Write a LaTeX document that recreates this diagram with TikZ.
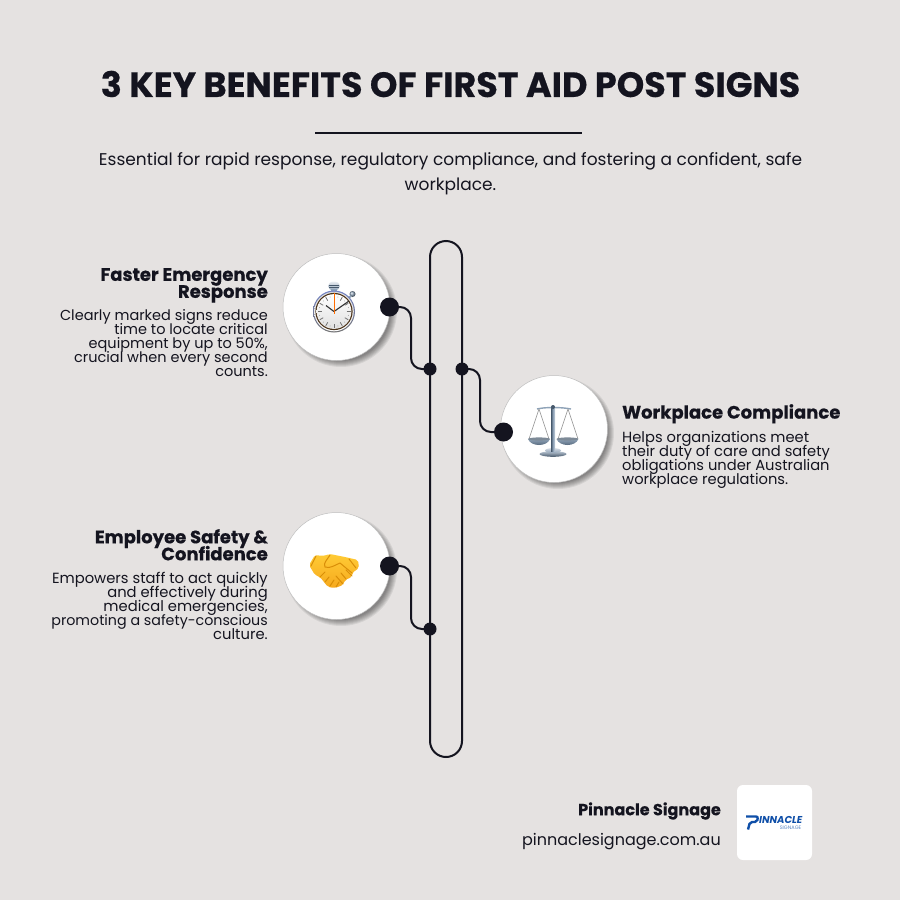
\documentclass[tikz,border=0pt]{standalone}
\usepackage{fontspec}
\setmainfont{Poppins}[BoldFeatures={FakeBold=0.5}]
\usetikzlibrary{calc}
\definecolor{bgc}{HTML}{E5E2E1}
\definecolor{ink}{HTML}{14141F}
\definecolor{logob}{HTML}{0F4FA8}
\definecolor{gold}{HTML}{FFCB35}
\definecolor{goldlo}{HTML}{F6A91E}
\definecolor{golddk}{HTML}{D98E08}
\definecolor{steel}{HTML}{8FA3B8}
\definecolor{steeldk}{HTML}{46586B}
\tikzset{
  x=1pt,y=-1pt,
  rail/.style={draw=ink,line width=2pt},
  link/.style={draw=ink,line width=2pt,rounded corners=11pt},
  bigdot/.style={circle,fill=ink,minimum size=19pt,inner sep=0pt},
  smalldot/.style={circle,fill=ink,minimum size=13pt,inner sep=0pt},
  disc/.style={circle,fill=white,draw=black!25,line width=.5pt,minimum size=107pt,inner sep=0pt},
  tight/.style={inner sep=0pt,text=ink},
  headR/.style={tight,anchor=north east,align=right,font=\fontsize{18}{17}\selectfont\bfseries},
  headL/.style={tight,anchor=north west,align=left,font=\fontsize{18}{17}\selectfont\bfseries},
  bodyR/.style={tight,anchor=north east,align=right,font=\fontsize{#1}{14}\selectfont},
  bodyL/.style={tight,anchor=north west,align=left,font=\fontsize{#1}{14}\selectfont},
}
\newcommand{\softshadow}[2]{%
  \foreach \r in {56,55,54,53,52,51,50}{\fill[black,opacity=.07] (#1+4,#2+4) circle[radius=\r];}}
\begin{document}
\begin{tikzpicture}
\normallineskiplimit=-30pt
\lineskiplimit=-30pt
\useasboundingbox (0,0) rectangle (900,900);
\fill[bgc] (0,0) rectangle (900,900);
% title
\node[tight,font=\fontsize{35}{35}\selectfont\bfseries] (title) at (450.5,84) {3 KEY BENEFITS OF FIRST AID POST SIGNS};
\coordinate (ruleL) at (315,132.5); \coordinate (ruleR) at (582,132.5);
\draw[rail] (ruleL) -- (ruleR);
\node[tight,align=center,font=\fontsize{17}{25}\selectfont] (sub) at (450.5,174) {Essential for rapid response, regulatory compliance, and fostering a confident, safe\\workplace.};
% rail pill
\node[rail,rounded corners=16pt,minimum width=32pt,minimum height=516pt,inner sep=0pt] (pill) at (446,499) {};
% shadows and discs
\softshadow{337}{307}\softshadow{554}{429}\softshadow{337}{566}
\node[disc] (c1) at (336.5,307) {};
\node[disc] (c2) at (554,429) {};
\node[disc] (c3) at (336.5,566) {};
% stopwatch
\shade[top color=white!80!steel,bottom color=steel] (334,286) ellipse[x radius=6,y radius=4.5];
\draw[steeldk,line width=.5pt] (329,285) -- (339,285) (329,287) -- (339,287);
\fill[steel] (331,289) rectangle (337,292);
\shade[ball color=steel] (352.5,294) circle[radius=3];
\draw[steel,line width=2pt] (346,300) -- (351,296);
\shade[top color=steel!80!blue,bottom color=black!55] (334,311.5) circle[radius=21];
\shade[top color=black!15,bottom color=white] (334,311.5) circle[radius=19.8];
\fill[black!60!brown] (334,311.5) circle[radius=18.6];
\shade[top color=white,bottom color=black!12] (334,311.5) circle[radius=17.4];
\foreach \a in {0,30,...,330}{\draw[black!55,line width=.8pt] (334,311.5)+(\a:12.5) -- +(\a:16.5);}
\foreach \a in {15,45,...,345}{\fill[black!35] (334,311.5)+(\a:15) circle[radius=.5];}
\draw[black!80,line width=1.1pt] (334,311.5) -- (326,305.5);
\draw[black!80,line width=1.1pt] (334,311.5) -- (349,301);
\draw[orange!85!red,line width=1pt] (334,293) -- (334,314);
% scales
\shade[top color=steel!60!white,bottom color=steeldk] (553,454) ellipse[x radius=13.5,y radius=2.8];
\shade[top color=white!60!steel,bottom color=steel] (553,450.5) ellipse[x radius=8,y radius=2.4];
\shade[left color=steeldk,right color=white!50!steel,middle color=steel] (551,408) rectangle (555,451);
\draw[steel,line width=1.4pt] (537,409) .. controls (545,407) and (561,407) .. (571,409);
\fill[steeldk] (553,407) circle[radius=2];
\draw[black!45,line width=.5pt] (539,409) -- (529,439) (539,409) -- (549,439) (568,409) -- (558,439) (568,409) -- (578,439);
\shade[top color=steel,bottom color=steeldk] (528,439) .. controls (531,447) and (547,447) .. (550,439) -- cycle;
\fill[steeldk!70] (539,439) ellipse[x radius=11,y radius=1.6];
\shade[top color=steel,bottom color=steeldk] (556.5,439) .. controls (560,447) and (575,447) .. (578.5,439) -- cycle;
\fill[steeldk!70] (567.5,439) ellipse[x radius=11,y radius=1.6];
% handshake
\shade[top color=gold,bottom color=goldlo,rounded corners=2pt] (309,565) -- (315,555) -- (323,556) -- (330,554) -- (345,557) -- (358,560) -- (359,568) -- (352,573) -- (352,577) -- (345,580) -- (343,585) -- (335,588) -- (328,587) -- (320,577) -- (315,575) -- cycle;
\draw[golddk,line width=1pt,line join=round,line cap=round] (330,555) .. controls (327,560) and (323,563) .. (325,567) .. controls (330,569) and (335,565) .. (340,563) -- (352,573)
 (346,570) -- (352,576) (341,573) -- (346,579) (336,576) -- (343,584) (320,577) -- (325,572) (325,582) -- (329,577) (330,586) -- (334,580) (336,587) -- (339,582) (316,556) -- (311,566) (349,559) -- (356,568);
% dots
\node[bigdot] (d1) at (389.5,307) {};
\node[bigdot] (d2) at (503.5,432) {};
\node[bigdot] (d3) at (389.5,566) {};
\node[smalldot] (j1) at (430,369) {};
\node[smalldot] (j2) at (462,369) {};
\node[smalldot] (j3) at (430,629) {};
\coordinate (m1) at (411,338); \coordinate (m2) at (480,400); \coordinate (m3) at (411,597);
\draw[link] (d1.center) -| (m1) |- (j1.center);
\draw[link] (j2.center) -| (m2) |- (d2.center);
\draw[link] (d3.center) -| (m3) |- (j3.center);
% texts
\node[headR] (h1) at (268,268) {Faster Emergency\\Response};
\node[bodyR=14.5] (b1) at (268,309) {Clearly marked signs reduce\\time to locate critical\\equipment by up to 50\%,\\crucial when every second\\counts.};
\node[headL] (h2) at (622,404) {Workplace Compliance};
\node[bodyL=14.7] (b2) at (622,431) {Helps organizations meet\\their duty of care and safety\\obligations under Australian\\workplace regulations.};
\node[headR] (h3) at (268,529) {Employee Safety \&\\Confidence};
\node[bodyR=14.75] (b3) at (268,572) {Empowers staff to act quickly\\and effectively during\\medical emergencies,\\{\fontsize{14.25}{14}\selectfont promoting a safety-conscious}\\culture.};
% footer
\node[tight,anchor=east,font=\fontsize{16}{16}\selectfont\bfseries] (f1) at (721,811) {Pinnacle Signage};
\node[tight,anchor=east,font=\fontsize{16}{16}\selectfont] (f2) at (721,842) {pinnaclesignage.com.au};
\node[fill=white,rounded corners=6pt,minimum size=75pt,inner sep=0pt] (logo) at (774.5,822.5) {};
\draw[logob,line width=2.4pt,rounded corners=2pt] (746,816.5) -- (758,816.5) -- (757,822) -- (750,822) -- (748,829.5);
\node[inner sep=0pt,anchor=west,text=logob,font=\fontsize{10}{10}\selectfont\bfseries\itshape] (l1) at (759,820) {INNACLE};
\node[inner sep=0pt,text=logob!70!white,font=\fontsize{5}{5}\selectfont] (l2) at (790.5,827.5) {SIGNAGE};
\end{tikzpicture}
\end{document}
